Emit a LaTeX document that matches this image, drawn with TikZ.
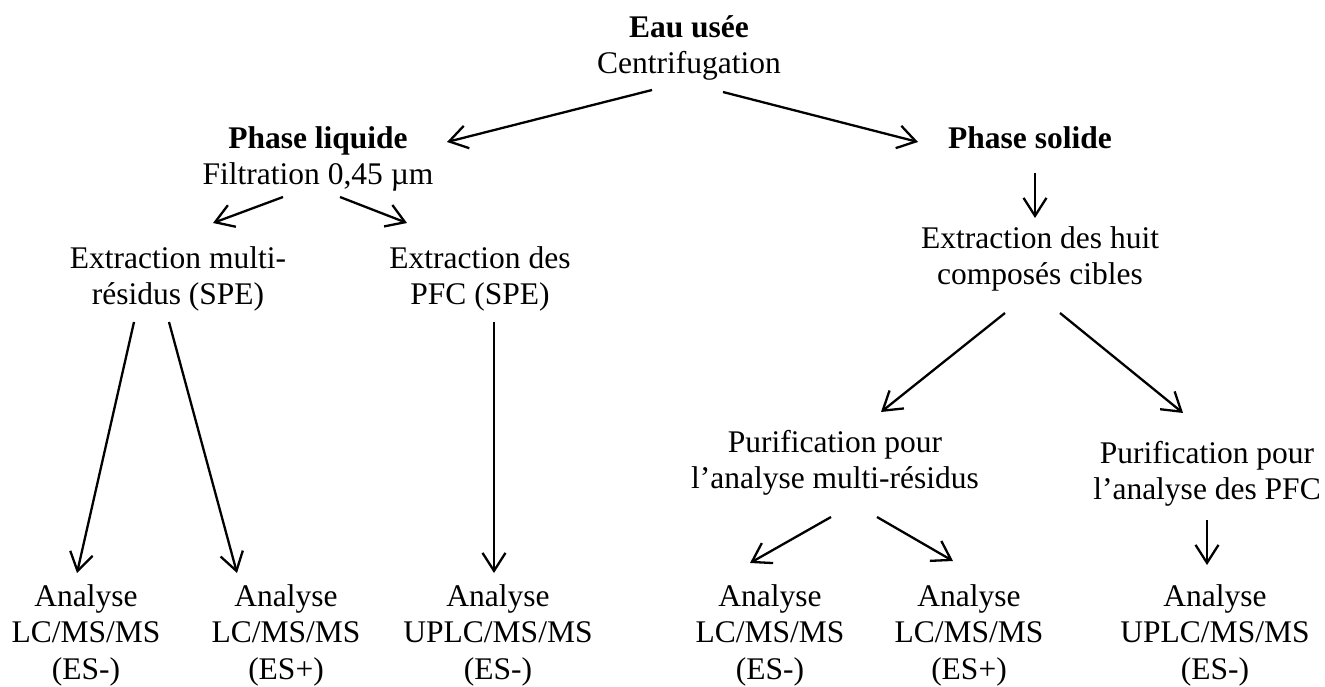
\documentclass[tikz,border=0pt]{standalone}
\usepackage{fontspec}
\setmainfont{Liberation Serif}
\usetikzlibrary{arrows.meta}
\newcommand\mystack[1]{\begin{tabular}[t]{@{}c@{}}#1\end{tabular}}
\begin{document}
\begin{tikzpicture}[x=1pt,y=-1pt,
  lbl/.style={anchor=base,inner sep=0pt,font=\fontsize{31.5}{36.5}\selectfont},
  arr/.style={line width=2.3pt,-{Straight Barb[length=18pt,width=23pt]}}]
\useasboundingbox (0,0) rectangle (1325,686);
% nodes
\node[lbl] (eau)   at (689,37)  {\mystack{\textbf{Eau usée}\\Centrifugation}};
\node[lbl] (liq)   at (318,148) {\mystack{\textbf{Phase liquide}\\Filtration 0,45 µm}};
\node[lbl] (sol)   at (1030,148) {\textbf{Phase solide}};
\node[lbl] (multi) at (178,268) {\mystack{Extraction multi-\\résidus (SPE)}};
\node[lbl] (pfc)   at (480,268) {\mystack{Extraction des\\PFC (SPE)}};
\node[lbl] (huit)  at (1040,248) {\mystack{Extraction des huit\\composés cibles}};
\node[lbl] (pmr)   at (835,452) {\mystack{Purification pour\\l’analyse multi-résidus}};
\node[lbl] (ppfc)  at (1207,463) {\mystack{Purification pour\\l’analyse des PFC}};
\node[lbl] (a1) at (86,606)   {\mystack{Analyse\\LC/MS/MS\\(ES-)}};
\node[lbl] (a2) at (286,606)  {\mystack{Analyse\\LC/MS/MS\\(ES+)}};
\node[lbl] (a3) at (498,606)  {\mystack{Analyse\\UPLC/MS/MS\\(ES-)}};
\node[lbl] (a4) at (770,606)  {\mystack{Analyse\\LC/MS/MS\\(ES-)}};
\node[lbl] (a5) at (969,606)  {\mystack{Analyse\\LC/MS/MS\\(ES+)}};
\node[lbl] (a6) at (1215,606) {\mystack{Analyse\\UPLC/MS/MS\\(ES-)}};
% connectors
\draw[arr] ([shift={(-37,53)}]eau.base) -- ([shift={(129,-6)}]liq.base);
\draw[arr] ([shift={(34,55)}]eau.base) -- ([shift={(-112,-6)}]sol.base);
\draw[arr] ([shift={(5,25)}]sol.base) -- ([shift={(-5,-30)}]huit.base);
\draw[arr] ([shift={(-35,49)}]liq.base) -- ([shift={(35,-45)}]multi.base);
\draw[arr] ([shift={(22,49)}]liq.base) -- ([shift={(-73,-45)}]pfc.base);
\draw[arr] ([shift={(-44,54)}]multi.base) -- ([shift={(-9,-33)}]a1.base);
\draw[arr] ([shift={(-9,54)}]multi.base) -- ([shift={(-49,-33)}]a2.base);
\draw[arr] ([shift={(14,54)}]pfc.base) -- ([shift={(-4,-33)}]a3.base);
\draw[arr] ([shift={(-35,65)}]huit.base) -- ([shift={(46,-40)}]pmr.base);
\draw[arr] ([shift={(20,65)}]huit.base) -- ([shift={(-24,-50)}]ppfc.base);
\draw[arr] ([shift={(-4,65)}]pmr.base) -- ([shift={(-20,-43)}]a4.base);
\draw[arr] ([shift={(42,65)}]pmr.base) -- ([shift={(-16,-45)}]a5.base);
\draw[arr] ([shift={(0,57)}]ppfc.base) -- ([shift={(-8,-41)}]a6.base);
\end{tikzpicture}
\end{document}
